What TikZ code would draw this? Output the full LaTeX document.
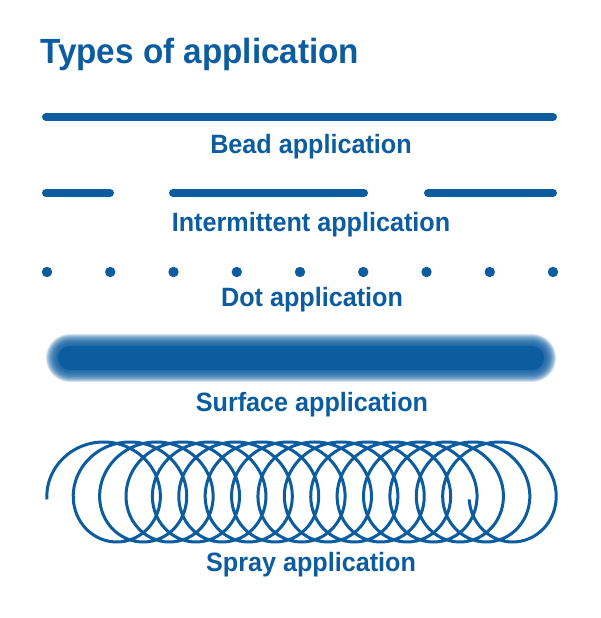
\documentclass[tikz,border=0pt]{standalone}
\usepackage{fontspec}
\newfontfamily\appfont{Liberation Sans}[FakeStretch=0.95]
\definecolor{appblue}{RGB}{12,92,160}
\begin{document}
\begin{tikzpicture}[x=1pt,y=1pt,
  applabel/.style={anchor=base,inner sep=0pt,text=appblue,font=\appfont\bfseries\fontsize{26.5}{30}\selectfont},
  bead/.style={appblue,line width=8pt,line cap=round}]
\useasboundingbox (0,0) rectangle (600,618);
\node[anchor=base west,inner sep=0pt,text=appblue,font=\appfont\bfseries\fontsize{35}{40}\selectfont] (title) at (40,554.7) {Types of application};
% bead
\draw[bead] (46,501) -- (553,501);
\node[applabel] (beadlabel) at (311,464) {Bead application};
% intermittent
\draw[bead] (46,425) -- (110,425);
\draw[bead] (173,425) -- (364,425);
\draw[bead] (428,425) -- (553,425);
\node[applabel] (interlabel) at (311,386) {Intermittent application};
% dots
\foreach \i in {0,...,8}
  \fill[appblue] (47+63.25*\i,346) circle (5.2pt);
\node[applabel] (dotlabel) at (312,311.3) {Dot application};
% surface
\foreach \w in {48,46,...,26}
  \draw[appblue,opacity=0.18,line width=\w pt,line cap=round] (70,260) -- (532,260);
\draw[appblue,line width=24pt,line cap=round] (70,260) -- (532,260);
\node[applabel] (surfacelabel) at (312,206.3) {Surface application};
% spray
\draw[appblue,line width=3pt] plot[domain=-0.15:100.4,samples=1200,smooth,variable=\t]
  ({97+4.2*\t-50*cos(\t r)},{126+50*sin(\t r)});
\node[applabel] (spraylabel) at (311,46.3) {Spray application};
\end{tikzpicture}
\end{document}
